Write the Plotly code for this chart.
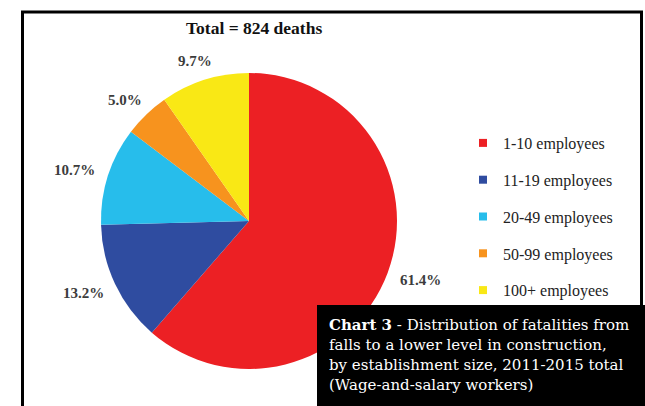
import math
import plotly.graph_objects as go

categories = ["1-10 employees", "11-19 employees", "20-49 employees", "50-99 employees", "100+ employees"]
shares = [61.4, 13.2, 10.7, 5.0, 9.7]
colors = ["#EC2024", "#2F4CA0", "#27BDEB", "#F7931E", "#F9E815"]
title_text = "Total = 824 deaths"
caption_lines = [
    "<b>Chart 3</b> - Distribution of fatalities from",
    "falls to a lower level in construction,",
    "by establishment size, 2011-2015 total",
    "(Wage-and-salary workers)",
]

W, H = 645, 406
CX, CY, R = 249, 221, 148  # pie centre / radius in pixels

fig = go.Figure()
fig.add_trace(go.Pie(
    labels=categories, values=shares, sort=False, direction="clockwise", rotation=0,
    marker=dict(colors=colors, line=dict(width=0)),
    textinfo="none", showlegend=False, hoverinfo="skip",
    domain=dict(x=[(CX - R) / W, (CX + R) / W], y=[1 - (CY + R) / H, 1 - (CY - R) / H]),
))
for name, col in zip(categories, colors):
    fig.add_trace(go.Scatter(
        x=[None], y=[None], mode="markers", name=name, legendgroup=name,
        marker=dict(symbol="square", size=8, color=col),
    ))

# outside percentage labels placed at each slice's mid-angle
annotations = []
total = sum(shares)
cum = 0.0
for v in shares:
    mid = (cum + v / 2) / total * 2 * math.pi
    cum += v
    dx, dy = math.sin(mid), -math.cos(mid)
    txt = f"{v:.1f}%"
    hw, hh = len(txt) * 4.4, 7
    px = CX + (R + 13) * dx + hw * dx
    py = CY + (R + 13) * dy + hh * dy
    annotations.append(dict(
        text=f"<b>{txt}</b>", x=px / W, y=1 - py / H, xref="paper", yref="paper",
        showarrow=False, xanchor="center", yanchor="middle",
        font=dict(family="Liberation Serif", size=15, color="#3c3c3c"),
    ))

annotations.append(dict(
    text="<b>" + title_text + "</b>", x=254 / W, y=1 - 28 / H, xref="paper", yref="paper",
    showarrow=False, font=dict(family="Liberation Serif", size=17.5, color="#111"),
    xanchor="center", yanchor="middle"))
for i, line in enumerate(caption_lines):
    annotations.append(dict(
        text=line, x=327 / W, y=1 - (325 + 20 * i) / H, xref="paper", yref="paper",
        showarrow=False, align="left", xanchor="left", yanchor="middle",
        font=dict(family="DejaVu Serif", size=15, color="white")))

fig.update_layout(
    width=W, height=H, margin=dict(l=0, r=0, t=0, b=0),
    paper_bgcolor="white", plot_bgcolor="white",
    xaxis=dict(visible=False), yaxis=dict(visible=False),
    legend=dict(
        x=463 / W, y=1 - 126 / H, xanchor="left", yanchor="top",
        font=dict(family="Liberation Serif", size=16, color="#222"),
        tracegroupgap=13, itemwidth=30, bgcolor="rgba(0,0,0,0)",
    ),
    shapes=[
        dict(type="path", xref="paper", yref="paper",
             path=f"M {22.5/W} -0.05 L {22.5/W} {1-12/H} L {641.5/W} {1-12/H} L {641.5/W} -0.05",
             line=dict(color="black", width=3)),
        dict(type="rect", xref="paper", yref="paper",
             x0=317 / W, x1=1, y0=0, y1=1 - 305 / H,
             fillcolor="black", line=dict(width=0), layer="above"),
    ],
    annotations=annotations,
)
fig.write_html("out.html", config={"displayModeBar": False},
               post_script="document.body.style.margin='0';document.body.style.overflow='hidden';")
